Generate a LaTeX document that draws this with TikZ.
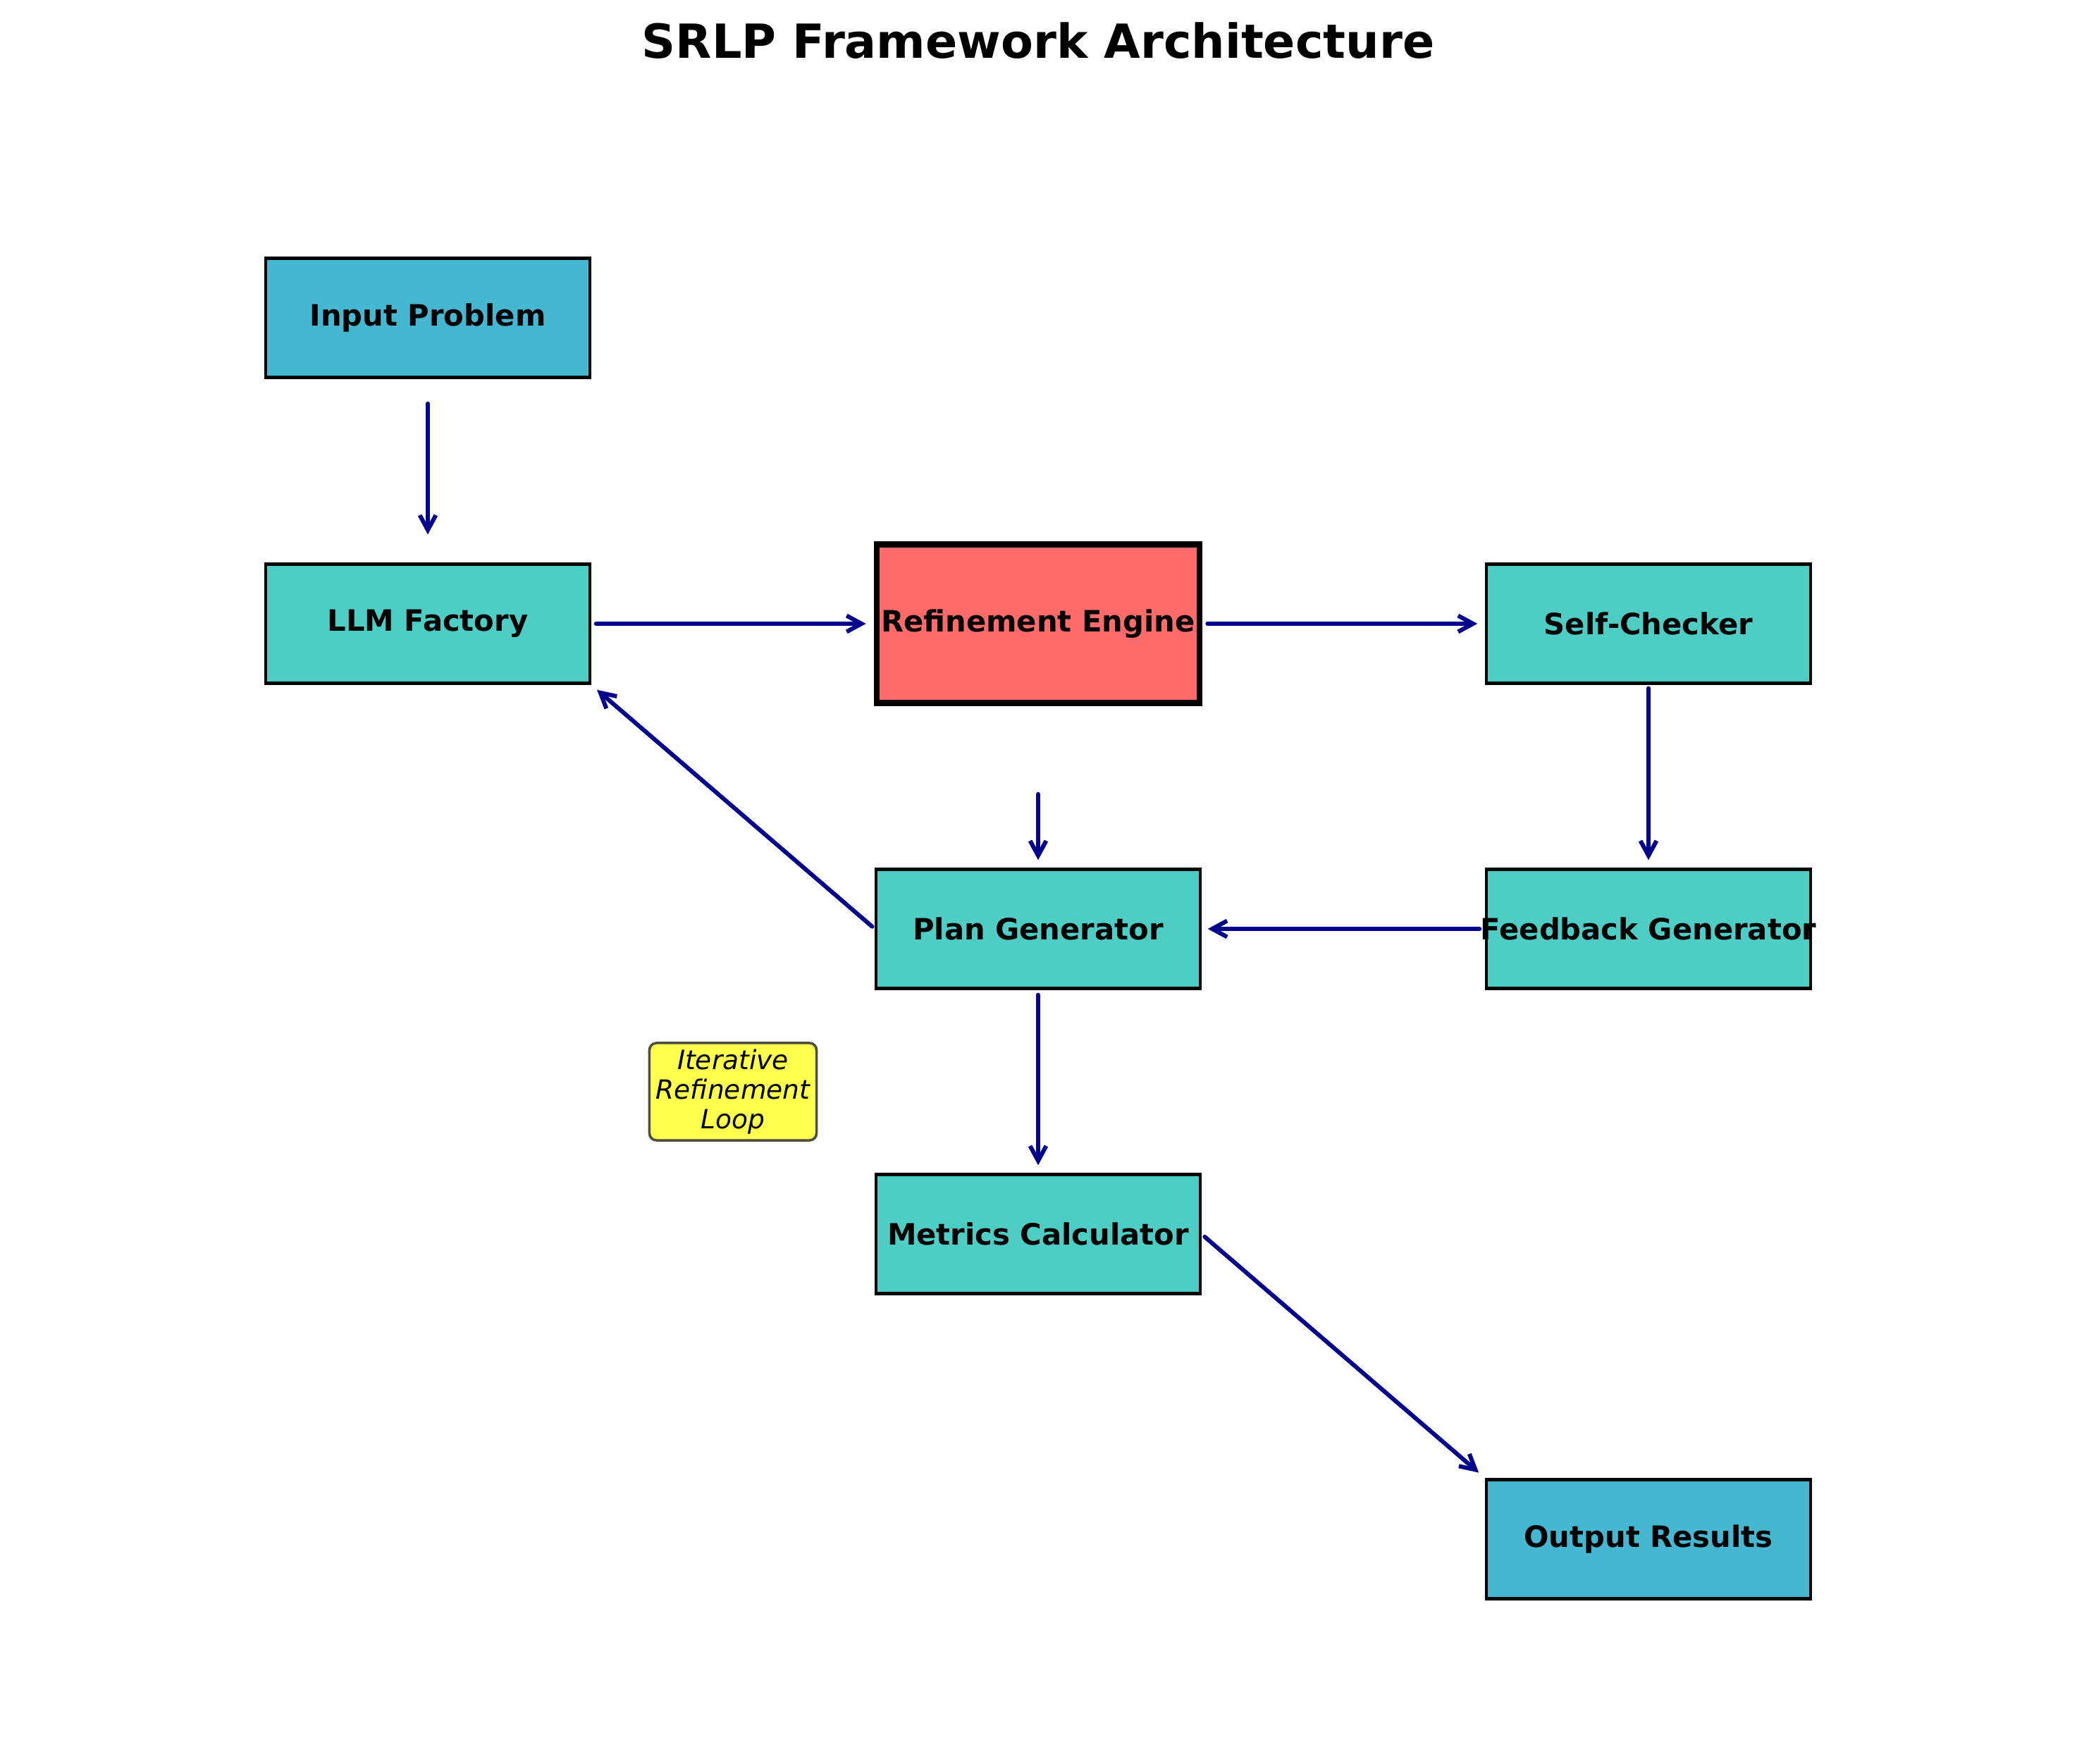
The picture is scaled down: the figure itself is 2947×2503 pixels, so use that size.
\documentclass[tikz,border=0pt]{standalone}
\usepackage{fontspec}
\setmainfont{DejaVu Sans}
\usepackage{xcolor}
\definecolor{fwblue}{HTML}{45B7D1}
\definecolor{fwteal}{HTML}{4ECDC4}
\definecolor{fwred}{HTML}{FF6B6B}
\definecolor{fwyellow}{HTML}{FFFF4D}
\definecolor{fwedge}{HTML}{4D4D40}
\definecolor{fwnavy}{HTML}{00008B}
\usepackage{tikz}
\usetikzlibrary{arrows.meta}
\tikzset{
  fwmod/.style  ={rectangle, draw=black, fill=fwteal, line width=1.2pt,
                  minimum width=4.59cm, minimum height=1.69cm, inner sep=0pt,
                  align=center, font=\fontsize{11.86}{14}\selectfont\bfseries},
  fwio/.style   ={fwmod, fill=fwblue},
  fwcore/.style ={fwmod, fill=fwred, line width=2.4pt,
                  minimum width=4.58cm, minimum height=2.25cm},
  fwnote/.style ={rectangle, rounded corners=0.1cm, draw=fwedge, fill=fwyellow,
                  line width=1pt, minimum width=2.37cm, minimum height=1.38cm,
                  inner sep=0pt, align=center,
                  font=\fontsize{10.67}{11.95}\selectfont\itshape},
  fwflow/.style ={-{Straight Barb[length=6pt,width=6.5pt]}, line width=1.7pt,
                  draw=fwnavy, line cap=round},
  fwtitle/.style={font=\fontsize{18.97}{22}\selectfont\bfseries},
}

\begin{document}
\begin{tikzpicture}[x=0.01cm, y=-0.01cm]
  \useasboundingbox (0,0) rectangle (2947,2503);
  \node[fwtitle, anchor=base] (title) at (1473,83) {SRLP Framework Architecture};
  % modules
  \node[fwio] (inp) at (607,451) {Input Problem};
  \node[fwcore] (ref) at (1473,885) {Refinement Engine};
  \foreach \nm/\x/\y/\lbl in {
      llm/607/885/{LLM Factory},
      chk/2339/885/{Self-Checker},
      plan/1473/1318/{Plan Generator},
      met/1473/1751/{Metrics Calculator}}{
    \node[fwmod] (\nm) at (\x,\y) {\lbl};
  }
  \node[fwmod] (fb) at (2339,1318) {\makebox[0pt]{Feedback Generator}};
  \node[fwio] (out) at (2339,2184) {Output Results};
  \node[fwnote] (loop) at (1040,1549) {Iterative\\Refinement\\Loop};
  % flow
  \foreach \a/\b/\s/\e in {
      inp/llm/0.35cm/0.40cm,
      llm/ref/0.07cm/0.11cm,
      ref/chk/0.07cm/0.11cm,
      chk/fb/0.05cm/0.11cm,
      fb/plan/0.08cm/0.09cm,
      ref/plan/1.25cm/0.11cm,
      plan/met/0.07cm/0.11cm,
      plan.west/llm.south east/0.05cm/0.11cm,
      met.east/out.north west/0.06cm/0.12cm}{
    \draw[fwflow, shorten <=\s, shorten >=\e] (\a) -- (\b);
  }
\end{tikzpicture}
\end{document}
